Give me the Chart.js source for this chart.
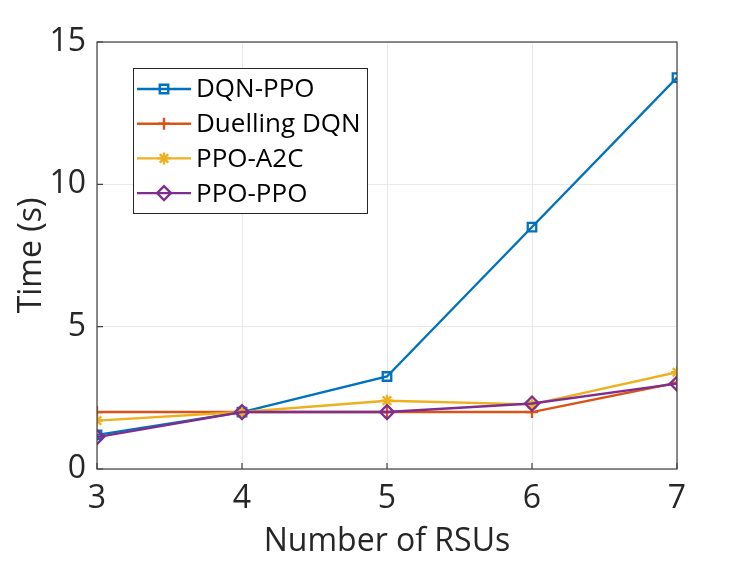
<!DOCTYPE html>
<html>
<head>
<meta charset="utf-8">
<script src="https://cdn.jsdelivr.net/npm/chart.js@4.4.1/dist/chart.umd.min.js"></script>
<style>
  html, body { margin: 0; padding: 0; background: #fff; }
  #wrap { width: 747px; height: 561px; }
</style>
</head>
<body>
<div id="wrap"><canvas id="chart"></canvas></div>
<script>
const rsus = [3, 4, 5, 6, 7];
const dqnPpo = [1.2, 2.0, 3.25, 8.5, 13.75];
const duellingDqn = [2.0, 2.0, 2.0, 2.0, 3.03];
const ppoA2c = [1.7, 2.0, 2.4, 2.27, 3.4];
const ppoPpo = [1.12, 2.0, 2.0, 2.3, 3.0];
const xTicks = [3, 4, 5, 6, 7];
const yTicks = [0, 5, 10, 15];

const FONT = "'Open Sans', 'Noto Sans', sans-serif";
const TEXT = '#262626';

function series(label, values, color, style, radius, order) {
  return {
    label,
    data: rsus.map((x, i) => ({ x, y: values[i] })),
    borderColor: color,
    backgroundColor: 'rgba(0,0,0,0)',
    pointBorderColor: color,
    pointBackgroundColor: 'rgba(0,0,0,0)',
    pointStyle: style,
    pointRadius: radius,
    pointBorderWidth: 2.3,
    borderWidth: 2.4,
    tension: 0,
    order
  };
}

const datasets = [
  series('DQN-PPO', dqnPpo, '#0072BD', 'rect', 6, 3),
  series('Duelling DQN', duellingDqn, '#D95319', 'cross', 6, 2),
  series('PPO-A2C', ppoA2c, '#EDB120', 'star', 6, 1),
  series('PPO-PPO', ppoPpo, '#7E2F8E', 'rectRot', 7, 0)
];

// box round the plot, inward ticks, and the legend inside the axes
const frame = {
  id: 'frame',
  afterDraw(chart) {
    const { ctx, chartArea: a, scales } = chart;
    ctx.save();
    ctx.strokeStyle = '#404040';
    ctx.lineWidth = 1.2;
    ctx.strokeRect(a.left, a.top, a.right - a.left, a.bottom - a.top);
    ctx.beginPath();
    xTicks.forEach(v => {
      const px = scales.x.getPixelForValue(v);
      ctx.moveTo(px, a.bottom); ctx.lineTo(px, a.bottom - 6);
    });
    yTicks.forEach(v => {
      const py = scales.y.getPixelForValue(v);
      ctx.moveTo(a.left, py); ctx.lineTo(a.left + 6, py);
    });
    ctx.stroke();

    // legend
    const lx = 133, ly = 68, lw = 234, lh = 145;
    ctx.fillStyle = '#fff';
    ctx.fillRect(lx, ly, lw, lh);
    ctx.strokeStyle = '#262626';
    ctx.lineWidth = 1;
    ctx.strokeRect(lx + 0.5, ly + 0.5, lw, lh);
    ctx.font = '26px ' + FONT;
    ctx.textBaseline = 'middle';
    ctx.textAlign = 'left';
    chart.data.datasets.forEach((ds, i) => {
      const y = 89 + i * 34.7;
      ctx.strokeStyle = ds.borderColor;
      ctx.lineWidth = 2.4;
      ctx.beginPath();
      ctx.moveTo(137, y); ctx.lineTo(191, y);
      ctx.stroke();
      ctx.fillStyle = ds.pointBackgroundColor;
      Chart.helpers.drawPoint(ctx, {
        pointStyle: ds.pointStyle, radius: ds.pointRadius, rotation: 0, borderWidth: 2.3
      }, 164, y);
      ctx.fillStyle = '#000';
      ctx.fillText(ds.label, 196, y + 1);
    });
    ctx.restore();
  }
};

new Chart(document.getElementById('chart'), {
  type: 'line',
  data: { datasets },
  plugins: [frame],
  options: {
    responsive: true,
    maintainAspectRatio: false,
    animation: false,
    layout: { padding: { top: 42, right: 70, left: 0, bottom: 0 } },
    plugins: { legend: { display: false }, tooltip: { enabled: false } },
    scales: {
      x: {
        type: 'linear', min: 3, max: 7,
        afterBuildTicks: s => { s.ticks = xTicks.map(v => ({ value: v })); },
        afterFit: s => { s.height = 92; },
        ticks: { font: { size: 32, family: FONT }, color: TEXT, padding: 11, maxRotation: 0 },
        grid: { color: '#e8e8e8', drawTicks: false, lineWidth: 1 },
        border: { display: false },
        title: { display: true, text: 'Number of RSUs', color: TEXT,
                 font: { size: 32, family: FONT }, padding: { top: 2, bottom: 0 } }
      },
      y: {
        min: 0, max: 15,
        afterBuildTicks: s => { s.ticks = yTicks.map(v => ({ value: v })); },
        afterFit: s => { s.width = 97; },
        ticks: { font: { size: 32, family: FONT }, color: TEXT, padding: 11 },
        grid: { color: '#e8e8e8', drawTicks: false, lineWidth: 1 },
        border: { display: false },
        title: { display: true, text: 'Time (s)', color: TEXT,
                 font: { size: 32, family: FONT }, padding: { top: 13, bottom: 0 } }
      }
    }
  }
});
</script>
</body>
</html>
